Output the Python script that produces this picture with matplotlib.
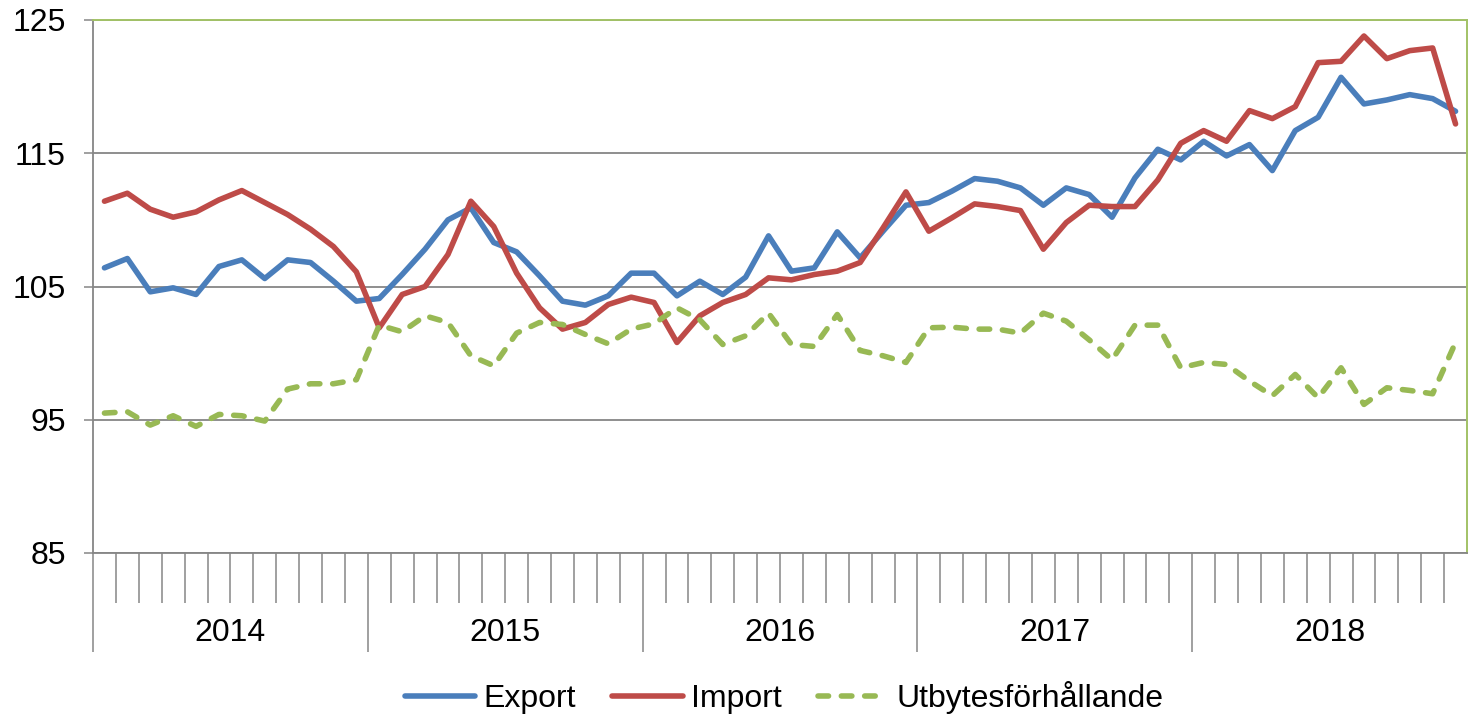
import matplotlib
matplotlib.use("Agg")
import matplotlib.pyplot as plt
import numpy as np

plt.rcParams['font.family'] = ['Liberation Sans', 'DejaVu Sans']

years = ['2014', '2015', '2016', '2017', '2018']
months_per_year = 12

export = [106.4, 107.1, 104.6, 104.9, 104.4, 106.5, 107.0, 105.6, 107.0, 106.8, 105.4, 103.9,
          104.1, 105.9, 107.8, 110.0, 110.9, 108.3, 107.6, 105.8, 103.9, 103.6, 104.3, 106.0,
          106.0, 104.3, 105.4, 104.4, 105.7, 108.8, 106.15, 106.4, 109.1, 107.15, 109.15, 111.1,
          111.3, 112.15, 113.1, 112.9, 112.4, 111.1, 112.4, 111.9, 110.2, 113.15, 115.3, 114.5,
          115.9, 114.8, 115.65, 113.7, 116.7, 117.7, 120.7, 118.7, 119.0, 119.4, 119.1, 118.15]

import_ = [111.4, 112.0, 110.8, 110.2, 110.6, 111.5, 112.2, 111.3, 110.4, 109.3, 108.0, 106.1,
           101.9, 104.4, 105.0, 107.4, 111.4, 109.5, 106.0, 103.4, 101.8, 102.3, 103.65, 104.2,
           103.8, 100.8, 102.8, 103.8, 104.4, 105.65, 105.5, 105.9, 106.15, 106.8, 109.4, 112.1,
           109.15, 110.15, 111.2, 111.0, 110.7, 107.8, 109.8, 111.1, 111.0, 111.0, 113.0, 115.75,
           116.7, 115.9, 118.2, 117.6, 118.5, 121.8, 121.9, 123.8, 122.1, 122.7, 122.9, 117.2]

utbytes = [95.5, 95.6, 94.6, 95.3, 94.5, 95.4, 95.3, 94.9, 97.3, 97.7, 97.7, 98.0,
           102.1, 101.6, 102.8, 102.3, 99.8, 99.05, 101.5, 102.3, 102.15, 101.4, 100.7, 101.8,
           102.2, 103.4, 102.5, 100.65, 101.3, 103.0, 100.65, 100.5, 102.9, 100.2, 99.8, 99.3,
           101.9, 101.95, 101.8, 101.8, 101.5, 103.0, 102.4, 101.0, 99.5, 102.1, 102.1, 98.9,
           99.3, 99.15, 97.9, 96.8, 98.4, 96.65, 98.9, 96.15, 97.4, 97.2, 96.95, 100.8]

y_ticks = [85, 95, 105, 115, 125]
labels = ['Export', 'Import', 'Utbytesförhållande']

GRAY = '#868686'
BLUE = '#4A7EBB'
RED = '#BE4B48'
GREEN = '#98B954'
FS = 23
LW = 4.0

fig = plt.figure(figsize=(14.68, 7.19), dpi=100)
ax = fig.add_axes([93/1468, 1-553/719, (1467-93)/1468, (553-20)/719])

n = len(export)
x = np.arange(n)
ax.plot(x, export, color=BLUE, lw=LW, solid_joinstyle='round', solid_capstyle='round', label=labels[0])
ax.plot(x, import_, color=RED, lw=LW, solid_joinstyle='round', solid_capstyle='round', label=labels[1])
ax.plot(x, utbytes, color=GREEN, lw=LW, dashes=(1.9, 2.3), dash_capstyle='round',
        dash_joinstyle='round', label=labels[2])

ax.set_xlim(-0.5, n - 0.5)
ax.set_ylim(85, 125)
ax.set_yticks(y_ticks)
ax.set_yticklabels([str(v) for v in y_ticks], fontsize=FS)
ax.yaxis.grid(True, color=GRAY, lw=1.3)
ax.set_axisbelow(True)
ax.tick_params(axis='y', length=6.5, width=1.1, color=GRAY, pad=13)

# x ticks: month boundaries (minor) and year boundaries (major)
major = [-0.5 + months_per_year * k for k in range(len(years))]
minor = [b - 0.5 for b in range(n) if b % months_per_year != 0]
ax.set_xticks(major)
ax.set_xticklabels([])
ax.set_xticks(minor, minor=True)
ax.tick_params(axis='x', which='major', length=71, width=1.1, color=GRAY, direction='out')
ax.tick_params(axis='x', which='minor', length=36, width=1.1, color=GRAY, direction='out')

for k, yr in enumerate(years):
    ax.text(k * months_per_year + (months_per_year - 1) / 2, -0.150, yr,
            transform=ax.get_xaxis_transform(), ha='center', va='center', fontsize=FS)

for s in ['left', 'bottom']:
    ax.spines[s].set_color(GRAY)
    ax.spines[s].set_linewidth(1.3)
for s in ['top', 'right']:
    ax.spines[s].set_color('#A2C266')
    ax.spines[s].set_linewidth(1.4)

leg = fig.legend(loc='center', bbox_to_anchor=(784/1468, 1-698/719), ncol=3, frameon=False,
                 fontsize=FS, handlelength=2.2, handletextpad=0.25, columnspacing=1.15,
                 borderaxespad=0)

fig.savefig('out.png', dpi=100)
